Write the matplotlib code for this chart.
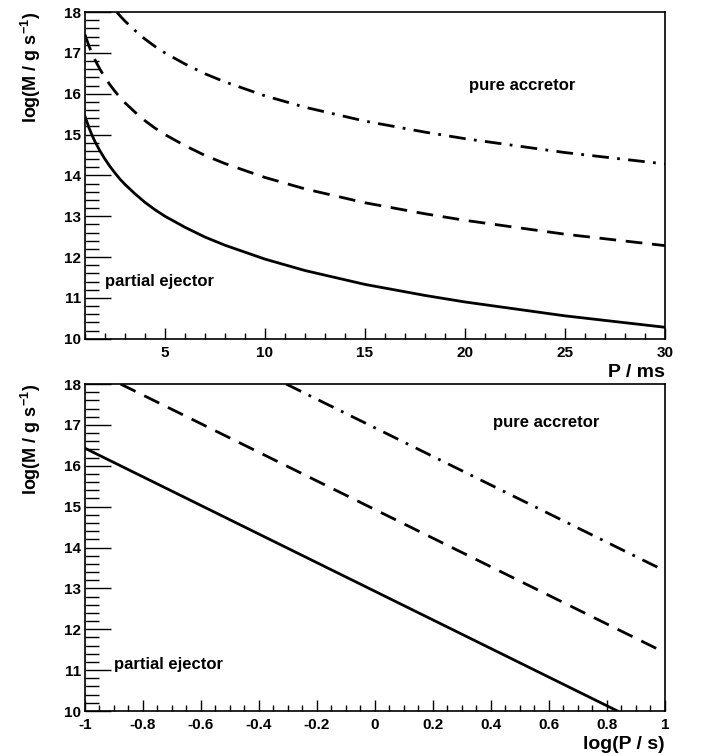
import matplotlib.pyplot as plt
from matplotlib.ticker import MultipleLocator

plt.rcParams["font.family"] = ["Liberation Sans", "DejaVu Sans"]
plt.rcParams["font.weight"] = "bold"
plt.rcParams["mathtext.fontset"] = "custom"
plt.rcParams["mathtext.rm"] = "Liberation Sans:bold"
plt.rcParams["mathtext.bf"] = "Liberation Sans:bold"
plt.rcParams["mathtext.default"] = "bf"

# top panel: P in ms
p_ms = [1, 1.1, 1.2, 1.35, 1.5, 1.75, 2, 2.25, 2.5, 2.75, 3, 3.5, 4, 4.5, 5, 6, 7, 8,
        10, 12, 15, 18, 20, 25, 30]
solid_top = [15.45, 15.31, 15.17, 14.99, 14.83, 14.60, 14.40, 14.22, 14.06, 13.91,
             13.78, 13.55, 13.34, 13.16, 13.00, 12.73, 12.49, 12.29, 11.95, 11.67,
             11.33, 11.06, 10.90, 10.56, 10.28]
dashed_top = [17.45, 17.31, 17.17, 16.99, 16.83, 16.60, 16.40, 16.22, 16.06, 15.91,
              15.78, 15.55, 15.34, 15.16, 15.00, 14.73, 14.49, 14.29, 13.95, 13.67,
              13.33, 13.06, 12.90, 12.56, 12.28]
p_ms_dd = [2.6, 2.75, 3, 3.5, 4, 4.5, 5, 6, 7, 8, 10, 12, 15, 18, 20, 25, 30]
dashdot_top = [18.00, 17.91, 17.78, 17.55, 17.34, 17.16, 17.00, 16.73, 16.49, 16.29,
               15.95, 15.67, 15.33, 15.06, 14.90, 14.56, 14.28]

# bottom panel: log(P / s)
logp_solid = [-1.0, 0.0, 0.837]
solid_bot = [16.43, 12.93, 10.00]
logp_dashed = [-0.877, 0.0, 1.0]
dashed_bot = [18.00, 14.93, 11.43]
logp_dashdot = [-0.306, 0.0, 1.0]
dashdot_bot = [18.00, 16.93, 13.43]

x2_ticks = [-1, -0.8, -0.6, -0.4, -0.2, 0, 0.2, 0.4, 0.6, 0.8, 1]
x2_labels = ["-1", "-0.8", "-0.6", "-0.4", "-0.2", "0", "0.2", "0.4", "0.6", "0.8", "1"]

ylabel = "log(M / g s$^{-1}$)"

fig = plt.figure(figsize=(7.02, 7.56), dpi=100)
ax1 = fig.add_axes([0.121, 0.552, 0.826, 0.432])
ax2 = fig.add_axes([0.121, 0.0595, 0.826, 0.4325])

dash = (0, (6, 3.5))
dashdot = (0, (6, 3, 1, 3))

ax1.plot(p_ms, solid_top, color="black", lw=2.0)
ax1.plot(p_ms, dashed_top, color="black", lw=2.0, linestyle=dash)
ax1.plot(p_ms_dd, dashdot_top, color="black", lw=2.0, linestyle=dashdot)
ax1.set_xlim(1, 30)
ax1.xaxis.set_major_locator(MultipleLocator(5))
ax1.xaxis.set_minor_locator(MultipleLocator(1))

ax2.plot(logp_solid, solid_bot, color="black", lw=2.0)
ax2.plot(logp_dashed, dashed_bot, color="black", lw=2.0, linestyle=dash)
ax2.plot(logp_dashdot, dashdot_bot, color="black", lw=2.0, linestyle=dashdot)
ax2.set_xlim(-1, 1)
ax2.xaxis.set_minor_locator(MultipleLocator(0.05))
ax2.set_xticks(x2_ticks)
ax2.set_xticklabels(x2_labels)

for ax in (ax1, ax2):
    ax.set_ylim(10, 18)
    ax.yaxis.set_major_locator(MultipleLocator(1))
    ax.yaxis.set_minor_locator(MultipleLocator(0.2))
    for s in ax.spines.values():
        s.set_linewidth(1.2)
    ax.tick_params(axis="both", which="both", direction="in", top=False, right=False,
                   labelsize=11, width=1)
    ax.tick_params(axis="y", which="major", length=19, pad=3)
    ax.tick_params(axis="y", which="minor", length=10)
    ax.tick_params(axis="x", which="major", length=8, pad=5)
    ax.tick_params(axis="x", which="minor", length=4)
    for lab in ax.get_xticklabels() + ax.get_yticklabels():
        lab.set_fontweight("bold")
    ax.set_ylabel(ylabel, fontsize=13, fontweight="bold", loc="top", labelpad=15)

ax1.set_xlabel("P / ms", fontsize=14, fontweight="bold", loc="right", labelpad=3)
ax2.set_xlabel("log(P / s)", fontsize=14, fontweight="bold", loc="right", labelpad=3)

ax1.text(22.85, 16.2, "pure accretor", fontsize=12, fontweight="bold", ha="center", va="center")
ax1.text(2.0, 11.4, "partial ejector", fontsize=12, fontweight="bold", ha="left", va="center")
ax2.text(0.59, 17.05, "pure accretor", fontsize=12, fontweight="bold", ha="center", va="center")
ax2.text(-0.9, 11.15, "partial ejector", fontsize=12, fontweight="bold", ha="left", va="center")

fig.savefig("out.png", dpi=100, facecolor="white")
